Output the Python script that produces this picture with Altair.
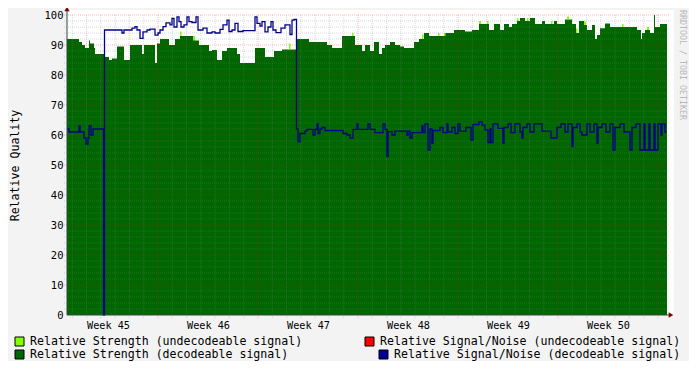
import altair as alt
import pandas as pd

# ---------------- data (time in weeks, values in %) ----------------
green_week = [44.59, 44.71, 44.74, 44.77, 44.81, 44.82, 44.86, 44.87, 44.96, 45.01,
              45.04, 45.09, 45.16, 45.22, 45.34, 45.36, 45.47, 45.49, 45.52, 45.61,
              45.67, 45.72, 45.87, 45.91, 46.01, 46.04, 46.09, 46.14, 46.19, 46.29,
              46.32, 46.47, 46.57, 46.66, 46.74, 46.89, 47.01, 47.19, 47.24, 47.34,
              47.47, 47.54, 47.57, 47.62, 47.66, 47.71, 47.74, 47.77, 47.82, 47.87,
              47.92, 47.96, 48.06, 48.11, 48.16, 48.21, 48.24, 48.37, 48.46, 48.57,
              48.64, 48.71, 48.81, 48.86, 48.92, 48.96, 49.01, 49.04, 49.09, 49.12,
              49.17, 49.22, 49.27, 49.34, 49.37, 49.46, 49.49, 49.57, 49.64, 49.68,
              49.71, 49.76, 49.79, 49.84, 49.87, 49.89, 49.92, 49.97, 50.02, 50.29,
              50.33, 50.34, 50.37, 50.42, 50.46, 50.47, 50.52, 50.59]
green_value = [92, 91, 90, 89, 91.5, 90.5, 89, 87, 86, 85,
               85.5, 89.5, 85, 90, 87, 90, 84, 90.5, 92, 90,
               92, 93, 91.5, 90, 88, 88.3, 85, 88, 89, 87,
               84, 89, 86, 88, 88.5, 92, 91, 90, 89, 93,
               90, 88, 90, 88, 91, 87, 89, 90, 91, 90,
               89.5, 89, 91, 92, 94, 93, 93, 94, 95, 94.5,
               95, 97, 95, 97, 95, 97, 96, 97, 98, 99,
               98, 99, 97, 98, 97, 98, 97, 98.5, 97, 94,
               98, 96.7, 95, 96.7, 92, 93.3, 95.6, 97.2, 96, 95,
               92, 94, 95, 94, 100, 96, 97, 97]

undecodeable_start = [45.72, 45.85, 46.81, 47.44, 48.14, 48.30, 48.36, 48.71, 48.79,
                      49.09, 49.19, 49.43, 49.59, 49.68, 49.76, 50.14, 50.39]
undecodeable_end = [45.735, 45.87, 46.825, 47.455, 48.155, 48.315, 48.375, 48.73, 48.805,
                    49.105, 49.205, 49.445, 49.61, 49.695, 49.78, 50.155, 50.41]
undecodeable_low = [93, 91.5, 88.5, 93, 92, 93, 93, 97, 97,
                    98, 98, 97, 98.5, 94, 96.7, 96, 95]
undecodeable_high = [94.5, 93, 90.5, 94, 93.5, 94, 94, 98, 98,
                     99, 99, 98, 99.5, 95.5, 97.8, 97, 96]

snr_week = [44.59, 44.61, 44.71, 44.72, 44.76, 44.78, 44.80, 44.81, 44.83, 44.85,
            44.955, 44.965, 45.14, 45.16, 45.24, 45.27, 45.29, 45.32, 45.35, 45.39,
            45.42, 45.47, 45.50, 45.52, 45.55, 45.58, 45.62, 45.64, 45.66, 45.69,
            45.71, 45.73, 45.76, 45.79, 45.81, 45.84, 45.88, 45.90, 45.95, 45.99,
            46.04, 46.07, 46.12, 46.15, 46.19, 46.21, 46.24, 46.27, 46.30, 46.35,
            46.47, 46.49, 46.52, 46.54, 46.57, 46.60, 46.63, 46.65, 46.68, 46.73,
            46.77, 46.82, 46.84, 46.86, 46.885, 46.90, 46.92, 46.97, 46.99, 47.05,
            47.07, 47.09, 47.10, 47.12, 47.14, 47.17, 47.35, 47.39, 47.42, 47.45,
            47.49, 47.50, 47.60, 47.62, 47.67, 47.75, 47.77, 47.79, 47.80, 47.84,
            47.87, 47.99, 48.00, 48.02, 48.04, 48.14, 48.15, 48.17, 48.20, 48.22,
            48.24, 48.25, 48.32, 48.35, 48.39, 48.40, 48.44, 48.47, 48.50, 48.52,
            48.58, 48.63, 48.65, 48.71, 48.74, 48.77, 48.80, 48.82, 48.83, 48.85,
            48.90, 48.95, 48.96, 49.00, 49.03, 49.07, 49.12, 49.14, 49.15, 49.19,
            49.22, 49.26, 49.34, 49.43, 49.49, 49.53, 49.57, 49.60, 49.64, 49.65,
            49.69, 49.72, 49.74, 49.79, 49.82, 49.86, 49.89, 49.90, 49.94, 49.98,
            50.02, 50.05, 50.07, 50.12, 50.16, 50.22, 50.24, 50.28, 50.32, 50.36,
            50.37, 50.41, 50.42, 50.46, 50.47, 50.50, 50.53, 50.54, 50.57, 50.585]
snr_value = [62, 61, 63, 61, 59, 57, 59, 63, 60, 62,
             0, 95, 94, 95, 95.6, 96.1, 95, 92.2, 94.4, 95,
             95.3, 93.3, 94, 95, 96.1, 97.4, 96.7, 98.9, 96, 99.4,
             97.8, 96, 96.7, 99.4, 97.8, 97.5, 99.4, 95, 95.6, 94,
             94.4, 94, 95.2, 96.7, 98.3, 94.5, 95, 97.2, 94.5, 94.8,
             99.4, 97.2, 96.3, 97.8, 94.4, 96, 97.8, 95, 94.1, 95.6,
             96.7, 93.5, 98.3, 98.5, 62, 57.8, 60.5, 61.4, 61.9, 60,
             61.9, 63.7, 60.5, 62, 62.5, 61.5, 60.5, 60, 59, 61.9,
             63.7, 61.9, 63.7, 61.9, 60.8, 63.7, 61.9, 52.8, 61.1, 60,
             61.3, 60, 61.3, 59, 60.8, 63, 60.8, 63.7, 55, 62,
             57.2, 61.5, 62.5, 60.8, 63.7, 61, 62.5, 60.5, 63.7, 61.3,
             62.5, 58.3, 63.5, 64.4, 63.3, 61.7, 57.5, 62, 57.5, 63.7,
             62.2, 57.2, 62.5, 63.7, 60.8, 63.7, 61, 59, 62.5, 63.7,
             61, 63.7, 61.3, 59, 62.5, 63.7, 61, 63.7, 56.1, 62.5,
             63.7, 61, 60, 63.7, 61, 63.7, 57.2, 62.5, 63.7, 61,
             63.7, 55, 62.5, 63.7, 61, 55, 62.5, 63.7, 55, 63.7,
             55, 63.7, 55, 63.7, 55, 63.7, 60, 63.7, 61, 61]

week_labels = [45, 46, 47, 48, 49, 50]
y_labels = list(range(0, 101, 10))

legend_labels = ["Relative Strength (undecodeable signal)",
                 "Relative Signal/Noise (undecodeable signal)",
                 "Relative Strength  (decodeable signal)",
                 "Relative Signal/Noise (decodeable signal)"]
legend_colors = ["#80FF00", "#FF0000", "#006600", "#000099"]

# grid positions (daily minor, weekly major; y minor every 2, major every 10)
x_major = [w + 0.5 for w in range(45, 51)]
x_minor = [45.5 + k / 7 for k in range(-6, 36) if k % 7 != 0 and 44.59 < 45.5 + k / 7 < 50.59]
y_minor = [v for v in range(2, 100, 2) if v % 10 != 0]
y_major = list(range(10, 101, 10))

FONT = "DejaVu Sans Mono"
W, H = 600, 300
xs = alt.Scale(domain=[44.59, 50.59], nice=False, zero=False)
ys = alt.Scale(domain=[0, 100], nice=False, zero=False)
one = pd.DataFrame({"a": [0]})

x_axis = alt.Axis(values=week_labels, labelExpr="'Week ' + datum.value", domain=False,
                  ticks=False, grid=False, labelPadding=5, labelFont=FONT, labelFontSize=10.2,
                  labelColor="#000000", title=None)
y_axis = alt.Axis(values=y_labels, domain=False, ticks=False, grid=False, labelPadding=4,
                  labelFont=FONT, labelFontSize=10.5, labelColor="#000000",
                  title="Relative Quality", titleFont=FONT, titleFontSize=11.6,
                  titleFontWeight="normal", titleColor="#000000", titlePadding=24)


def X(field):
    return alt.X(field, type="quantitative", scale=xs, axis=x_axis)


def Y(field):
    return alt.Y(field, type="quantitative", scale=ys, axis=y_axis)


canvas = alt.Chart(one).mark_rect(color="white").encode(
    x=alt.value(0), x2=alt.value(607), y=alt.value(-5), y2=alt.value(300))

area = alt.Chart(pd.DataFrame({"w": green_week, "v": green_value})).mark_area(
    interpolate="step-after", color="#006600").encode(x=X("w"), y=Y("v"))

undec = alt.Chart(pd.DataFrame({"s": undecodeable_start, "e": undecodeable_end,
                                "lo": undecodeable_low, "hi": undecodeable_high})).mark_rect(
    color="#80FF00").encode(x=X("s"), x2="e:Q", y=Y("lo"), y2="hi:Q")


def vgrid(vals, color, opacity):
    return alt.Chart(pd.DataFrame({"g": vals})).mark_rule(
        color=color, opacity=opacity, strokeDash=[1, 1], strokeWidth=1).encode(
        x=X("g"), y=alt.value(0), y2=alt.value(303))


def hgrid(vals, color, opacity):
    return alt.Chart(pd.DataFrame({"g": vals})).mark_rule(
        color=color, opacity=opacity, strokeDash=[1, 1], strokeWidth=1).encode(
        y=Y("g"), x=alt.value(-3), x2=alt.value(603))


grids = [vgrid(x_minor, "#808080", 0.3), hgrid(y_minor, "#808080", 0.3),
         vgrid(x_major, "#FF0000", 0.28), hgrid(y_major, "#FF0000", 0.28)]

snr = alt.Chart(pd.DataFrame({"w": snr_week, "v": snr_value})).mark_line(
    interpolate="step-after", color="#000088", strokeWidth=1.3).encode(x=X("w"), y=Y("v"))

axis_y_line = alt.Chart(one).mark_rule(color="#2C4D43").encode(
    x=alt.value(0), y=alt.value(-4), y2=alt.value(300))
axis_x_line = alt.Chart(one).mark_rule(color="#2C4D43").encode(
    y=alt.value(300), x=alt.value(0), x2=alt.value(603))
arrow_y = alt.Chart(one).mark_point(shape="triangle-up", filled=True, color="#7F0000",
                                    size=28, opacity=1).encode(
    x=alt.value(0), y=alt.value(-6))
arrow_x = alt.Chart(one).mark_point(shape="triangle-right", filled=True, color="#7F0000",
                                    size=28, opacity=1).encode(
    x=alt.value(604), y=alt.value(300))

watermark = alt.Chart(one).mark_text(
    text="RRDTOOL / TOBI OETIKER", angle=90, align="left", baseline="middle",
    font=FONT, fontSize=8.3, color="#B8B8B8").encode(x=alt.value(615), y=alt.value(-5))

legend_layers = []
legend_pos = [(-52, 322, -37, 326.5), (298, 322, 313, 326.5),
              (-52, 335, -37, 339.5), (312, 335, 327, 339.5)]
for lab, col, (rx, ry, tx, ty) in zip(legend_labels, legend_colors, legend_pos):
    legend_layers.append(alt.Chart(one).mark_rect(
        color=col, stroke="#000000", strokeWidth=1).encode(
        x=alt.value(rx), x2=alt.value(rx + 9), y=alt.value(ry), y2=alt.value(ry + 9)))
    legend_layers.append(alt.Chart(one).mark_text(
        text=lab, align="left", baseline="middle", font=FONT, fontSize=11.6,
        color="#000000").encode(x=alt.value(tx), y=alt.value(ty)))

chart = alt.layer(canvas, area, undec, *grids, snr, axis_y_line, axis_x_line,
                  arrow_y, arrow_x, watermark, *legend_layers).properties(
    width=W, height=H,
    autosize=alt.AutoSizeParams(type="none"),
    padding={"left": 59, "top": 7, "right": 22, "bottom": 46},
).configure(background="#F3F3F3").configure_view(stroke=None, fill="white")

chart.save("out.html", embed_options={"renderer": "svg", "actions": False})
